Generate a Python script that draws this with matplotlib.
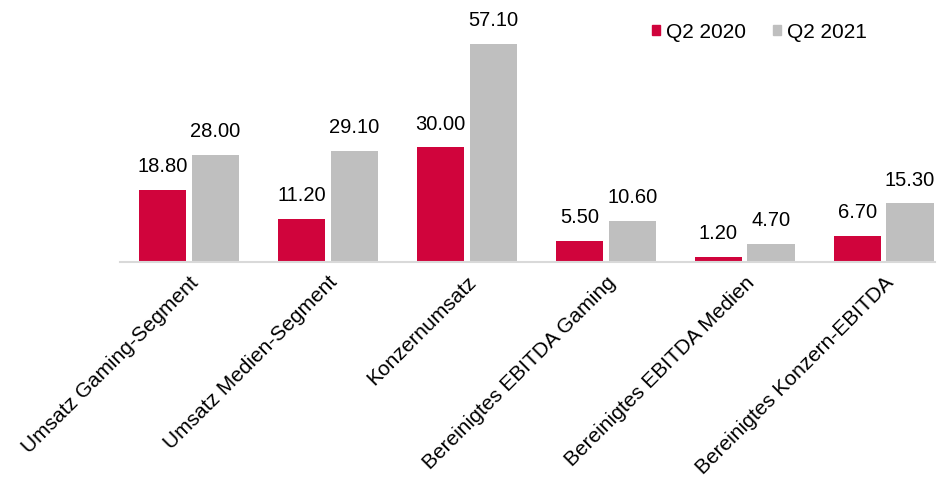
import numpy as np
import matplotlib.pyplot as plt
from matplotlib.patches import Patch

plt.rcParams["font.family"] = ["Liberation Sans", "DejaVu Sans"]

# ── Daten ─────────────────────────────────────────────────────────────────────
kategorien = ["Umsatz Gaming-Segment", "Umsatz Medien-Segment", "Konzernumsatz",
              "Bereinigtes EBITDA Gaming", "Bereinigtes EBITDA Medien",
              "Bereinigtes Konzern-EBITDA"]
q2_2020 = [18.80, 11.20, 30.00, 5.50, 1.20, 6.70]
q2_2021 = [28.00, 29.10, 57.10, 10.60, 4.70, 15.30]
serien = ["Q2 2020", "Q2 2021"]

ROT = "#D0043C"
GRAU = "#BFBFBF"

fig = plt.figure(figsize=(9.43, 4.82), dpi=100)
ax = fig.add_axes([0.127, 0.457, 0.8645, 0.543])

x = np.arange(len(kategorien))
w = 0.34
b1 = ax.bar(x - 0.19, q2_2020, w, color=ROT)
b2 = ax.bar(x + 0.19, q2_2021, w, color=GRAU)

for bars, vals in [(b1, q2_2020), (b2, q2_2021)]:
    for bar, v in zip(bars, vals):
        ax.annotate(f"{v:.2f}", xy=(bar.get_x() + bar.get_width() / 2, v),
                    xytext=(0, 10), textcoords="offset points",
                    ha="center", va="bottom", fontsize=14.5, color="#000000")

ax.set_xlim(-0.5, 5.37)
ax.set_ylim(0, 68.7)
ax.set_yticks([])
ax.set_xticks(x)
ax.set_xticklabels(kategorien, rotation=45, ha="right", va="top",
                   rotation_mode="anchor", fontsize=15)
ax.tick_params(axis="x", length=0, pad=8)

for s in ["top", "right", "left"]:
    ax.spines[s].set_visible(False)
ax.spines["bottom"].set_color("#D9D9D9")
ax.spines["bottom"].set_linewidth(1.5)

handles = [Patch(color=ROT), Patch(color=GRAU)]
ax.legend(handles, serien, loc="upper right", bbox_to_anchor=(0.94, 0.985),
          ncol=2, frameon=False, fontsize=15, handlelength=0.38,
          handleheight=0.38, handletextpad=0.3, columnspacing=1.3)

fig.savefig("out.png", dpi=100)
plt.close()
